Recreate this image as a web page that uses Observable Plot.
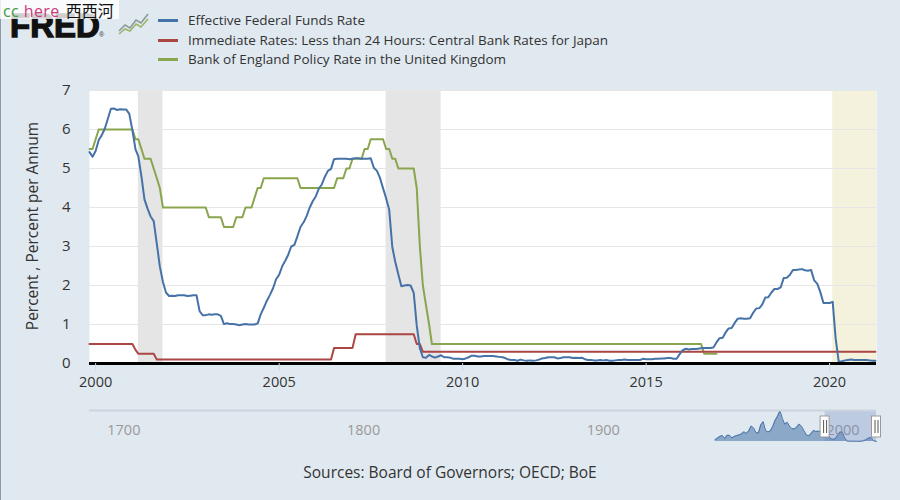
<!DOCTYPE html>
<html>
<head>
<meta charset="utf-8">
<script src="https://cdn.jsdelivr.net/npm/d3@7"></script>
<script src="https://cdn.jsdelivr.net/npm/@observablehq/plot@0.6"></script>
<style>
  html, body { margin: 0; padding: 0; background: #e1e9f0; }
  #wrap { position: relative; width: 900px; height: 500px; overflow: hidden; background: #e1e9f0; font-family: "Open Sans", sans-serif; color: #333; }
  #main { position: absolute; left: 0; top: 0; }
  #nav { position: absolute; left: 0; top: 400px; }
  #edge { position: absolute; left: 0; top: 0; width: 1px; height: 500px; background: #8e9aa7; }
  #logo { position: absolute; left: 10px; top: 9px; font-family: "Liberation Sans", Arial, sans-serif; font-weight: 700; font-size: 33px; line-height: 1; color: #111; -webkit-text-stroke: 1.3px #111; white-space: nowrap; }
  #reg { position: absolute; left: 99px; top: 31px; font-family: "Liberation Sans", Arial, sans-serif; font-size: 7px; line-height: 7px; color: #333; }
  #icon { position: absolute; left: 118px; top: 11px; }
  #wmbox { position: absolute; left: 0; top: 0; width: 119px; height: 19px; background: rgba(255,255,255,0.8); }
  #wm { position: absolute; left: 3px; top: 1px; font-size: 16px; line-height: 18px; letter-spacing: 0.4px; white-space: nowrap; }
  #wm .lat { font-family: "Open Sans", sans-serif; }
  #wm .cjk { font-family: "Noto Sans CJK SC", sans-serif; font-size: 16px; letter-spacing: 0; color: #111; margin-left: 6px; }
  #legend { position: absolute; left: 158px; top: 11px; font-size: 13.5px; line-height: 19.5px; color: #333; }
  .item { display: flex; align-items: center; height: 19.5px; }
  .sw { width: 20px; height: 3px; margin-right: 10px; }
  #ytitle { position: absolute; left: 32px; top: 226px; transform: translate(-50%, -50%) rotate(-90deg); font-size: 15.5px; white-space: nowrap; color: #333; }
  #source { position: absolute; left: 0; width: 900px; top: 461px; text-align: center; font-size: 15.5px; color: #333; }
</style>
</head>
<body>
<div id="wrap">
  <div id="main"></div>
  <div id="nav"></div>
  <div id="edge"></div>
  <div id="logo">FRED</div>
  <div id="reg">®</div>
  <svg id="icon" width="32" height="24" viewBox="0 0 32 24">
    <polyline points="1,20 7,14 12,17 18,9 23,12 30,3" fill="none" stroke="#8a9a9a" stroke-width="1.6"/>
    <polyline points="1,23 7,18 12,20 18,13 23,16 30,8" fill="none" stroke="#9ab46a" stroke-width="1.6"/>
  </svg>
  <div id="wmbox"></div>
  <div id="wm"><span class="lat" style="color:#3f9a3f">cc</span><span class="lat" style="color:#c93b7c"> here</span><span class="cjk">西西河</span></div>
  <div id="legend"></div>
  <div id="ytitle">Percent , Percent per Annum</div>
  <div id="source">Sources: Board of Governors; OECD; BoE</div>
</div>
<script>
// ---------------- DATA ----------------
const seriesNames = [
  "Effective Federal Funds Rate",
  "Immediate Rates: Less than 24 Hours: Central Bank Rates for Japan",
  "Bank of England Policy Rate in the United Kingdom"
];
const seriesColors = ["#4572a7", "#aa4643", "#89a54e"];

// Effective Federal Funds Rate, monthly from 1999-11
const fedStart = "1999-11";
const fedValues = [
  5.42, 5.30,
  5.45, 5.73, 5.85, 6.02, 6.27, 6.53, 6.54, 6.50, 6.52, 6.51, 6.51, 6.40,
  5.98, 5.49, 5.31, 4.80, 4.21, 3.97, 3.77, 3.65, 3.07, 2.49, 2.09, 1.82,
  1.73, 1.74, 1.73, 1.75, 1.75, 1.75, 1.73, 1.74, 1.75, 1.75, 1.34, 1.24,
  1.24, 1.26, 1.25, 1.26, 1.26, 1.22, 1.01, 1.03, 1.01, 1.01, 1.00, 0.98,
  1.00, 1.01, 1.00, 1.00, 1.00, 1.03, 1.26, 1.43, 1.61, 1.76, 1.93, 2.16,
  2.28, 2.50, 2.63, 2.79, 3.00, 3.04, 3.26, 3.50, 3.62, 3.78, 4.00, 4.16,
  4.29, 4.49, 4.59, 4.79, 4.94, 4.99, 5.24, 5.25, 5.25, 5.25, 5.25, 5.24,
  5.25, 5.26, 5.26, 5.25, 5.25, 5.25, 5.26, 5.02, 4.94, 4.76, 4.49, 4.24,
  3.94, 2.98, 2.61, 2.28, 1.98, 2.00, 2.01, 2.00, 1.81, 0.97, 0.39, 0.16,
  0.15, 0.22, 0.18, 0.15, 0.18, 0.21, 0.16, 0.16, 0.15, 0.12, 0.12, 0.12,
  0.11, 0.13, 0.16, 0.20, 0.20, 0.18, 0.18, 0.19, 0.19, 0.19, 0.19, 0.18,
  0.17, 0.16, 0.14, 0.10, 0.09, 0.09, 0.07, 0.10, 0.08, 0.07, 0.08, 0.07,
  0.08, 0.10, 0.13, 0.14, 0.16, 0.16, 0.16, 0.13, 0.14, 0.16, 0.16, 0.16,
  0.14, 0.15, 0.14, 0.15, 0.11, 0.09, 0.09, 0.08, 0.08, 0.09, 0.08, 0.09,
  0.07, 0.07, 0.08, 0.09, 0.09, 0.10, 0.09, 0.09, 0.09, 0.09, 0.09, 0.12,
  0.11, 0.11, 0.11, 0.12, 0.12, 0.13, 0.13, 0.14, 0.14, 0.12, 0.12, 0.24,
  0.34, 0.38, 0.36, 0.37, 0.37, 0.38, 0.39, 0.40, 0.40, 0.40, 0.41, 0.54,
  0.65, 0.66, 0.79, 0.90, 0.91, 1.04, 1.15, 1.16, 1.15, 1.15, 1.16, 1.30,
  1.41, 1.42, 1.51, 1.69, 1.70, 1.82, 1.91, 1.91, 1.95, 2.19, 2.20, 2.27,
  2.40, 2.40, 2.41, 2.42, 2.39, 2.38, 2.40, 2.13, 2.04, 1.83, 1.55, 1.55,
  1.55, 1.58, 0.65, 0.05, 0.05, 0.08, 0.09, 0.10, 0.09, 0.09, 0.09, 0.09,
  0.09, 0.08, 0.07, 0.07
];

// Japan central bank rate: monthly points at each change
const japanMonths = ["1999-11","2001-01","2001-02","2001-03","2001-08","2001-09","2006-06","2006-07","2007-01","2007-02","2008-09","2008-10","2008-11","2008-12","2021-04"];
const japanValues = [0.5, 0.5, 0.35, 0.25, 0.25, 0.1, 0.1, 0.4, 0.4, 0.75, 0.75, 0.5, 0.5, 0.3, 0.3];

// Bank of England policy rate: monthly points at each change
const boeMonths = ["1999-11","1999-12","2000-01","2000-02","2001-01","2001-02","2001-03","2001-04","2001-05","2001-07","2001-08","2001-09","2001-10","2001-11",
  "2003-01","2003-02","2003-06","2003-07","2003-10","2003-11","2004-01","2004-02","2004-04","2004-05","2004-06","2004-07","2004-08",
  "2005-07","2005-08","2006-07","2006-08","2006-10","2006-11","2006-12","2007-01","2007-04","2007-05","2007-06","2007-07","2007-11","2007-12",
  "2008-01","2008-02","2008-03","2008-04","2008-09","2008-10","2008-11","2008-12","2009-01","2009-02","2009-03","2016-07","2016-08","2016-12"];
const boeValues = [5.5, 5.5, 5.75, 6.0, 6.0, 5.75, 5.75, 5.5, 5.25, 5.25, 5.0, 4.75, 4.5, 4.0,
  4.0, 3.75, 3.75, 3.5, 3.5, 3.75, 3.75, 4.0, 4.0, 4.25, 4.5, 4.5, 4.75,
  4.75, 4.5, 4.5, 4.75, 4.75, 5.0, 5.0, 5.25, 5.25, 5.5, 5.5, 5.75, 5.75, 5.5,
  5.5, 5.25, 5.25, 5.0, 5.0, 4.5, 3.0, 2.0, 1.5, 1.0, 0.5, 0.5, 0.25, 0.25];

// Recessions (shaded) and the preliminary period
const shadeStarts = ["2001-03", "2007-12", "2020-02"];
const shadeEnds   = ["2001-11", "2009-06", "2021-04"];
const shadeKinds  = ["recession", "recession", "preliminary"];

const xDomainMonths = ["1999-11", "2021-04"];
const xTickYears = [2000, 2005, 2010, 2015, 2020];
const yTicks = [0, 1, 2, 3, 4, 5, 6, 7];

// Navigator: annual averages of the Fed funds rate
const navYears = [1954,1955,1956,1957,1958,1959,1960,1961,1962,1963,1964,1965,1966,1967,1968,1969,1970,1971,1972,1973,1974,1975,1976,1977,1978,1979,1980,1981,1982,1983,1984,1985,1986,1987,1988,1989,1990,1991,1992,1993,1994,1995,1996,1997,1998,1999,2000,2001,2002,2003,2004,2005,2006,2007,2008,2009,2010,2011,2012,2013,2014,2015,2016,2017,2018,2019,2020,2021.3];
const navValues = [1.0,1.79,2.73,3.11,1.57,3.31,3.21,1.95,2.71,3.18,3.50,4.07,5.11,4.22,5.66,8.21,7.17,4.67,4.44,8.74,10.51,5.82,5.05,5.54,7.94,11.20,13.35,16.39,12.24,9.09,10.23,8.10,6.80,6.66,7.57,9.21,8.10,5.69,3.52,3.02,4.21,5.83,5.30,5.46,5.35,4.97,6.24,3.88,1.67,1.13,1.35,3.22,4.97,5.02,1.92,0.16,0.18,0.10,0.14,0.11,0.09,0.13,0.40,1.00,1.83,2.16,0.38,0.08];
const navDomain = [1693, 2021.28];
const navSelection = [1999.84, 2021.28];
const navTicks = [1700, 1800, 1900, 2000];
const navYMax = 16.4;

// ---------------- BUILD ----------------
const pm = d3.utcParse("%Y-%m");
const fed = fedValues.map((v, i) => ({date: d3.utcMonth.offset(pm(fedStart), i), value: v}));
const japan = japanMonths.map((m, i) => ({date: pm(m), value: japanValues[i]}));
const boe = boeMonths.map((m, i) => ({date: pm(m), value: boeValues[i]}));
const shades = shadeStarts.map((s, i) => ({start: pm(s), end: pm(shadeEnds[i]), kind: shadeKinds[i]}));
const shadeColor = {recession: "#e5e5e5", preliminary: "#f4f2dc"};
const xDomain = [pm(xDomainMonths[0]), d3.utcDay.offset(pm(xDomainMonths[1]), 11)];
shades[2].end = xDomain[1];

const main = Plot.plot({
  width: 900, height: 400,
  marginLeft: 89, marginRight: 24, marginTop: 90, marginBottom: 37,
  style: {background: "transparent", fontFamily: "Open Sans", fontSize: "14.5px", color: "#333", overflow: "visible"},
  x: {type: "utc", domain: xDomain},
  y: {domain: [0, 7]},
  marks: [
    Plot.frame({fill: "white", stroke: null}),
    Plot.rect(shades, {x1: "start", x2: "end", fill: d => shadeColor[d.kind]}),
    Plot.ruleY(yTicks.filter(v => v > 0), {stroke: "#e6e6e6", strokeWidth: 1}),
    Plot.lineY(boe, {x: "date", y: "value", stroke: seriesColors[2], strokeWidth: 2}),
    Plot.lineY(japan, {x: "date", y: "value", stroke: seriesColors[1], strokeWidth: 2}),
    Plot.lineY(fed, {x: "date", y: "value", stroke: seriesColors[0], strokeWidth: 2}),
    Plot.ruleY([0], {stroke: "#000", strokeWidth: 3}),
    Plot.axisX({ticks: xTickYears.map(y => new Date(Date.UTC(y, 0, 1))), tickFormat: "%Y", tickSize: 8, tickPadding: 5, stroke: "#ccd6eb", fill: "#333", fontSize: 14.5, label: null}),
    Plot.axisY({ticks: yTicks, tickFormat: d => String(d), tickSize: 0, tickPadding: 19, fontSize: 15, fill: "#333", label: null})
  ]
});
document.getElementById("main").appendChild(main);

const navData = navYears.map((y, i) => ({year: y, value: navValues[i]}));
const nav = Plot.plot({
  width: 900, height: 50,
  marginLeft: 89, marginRight: 24, marginTop: 10, marginBottom: 9,
  style: {background: "transparent", fontFamily: "Open Sans", fontSize: "14.5px", overflow: "visible"},
  x: {domain: navDomain, axis: null},
  y: {domain: [0, navYMax], axis: null},
  marks: [
    Plot.areaY(navData, {x: "year", y: "value", fill: "#4572a7", fillOpacity: 0.55}),
    Plot.lineY(navData, {x: "year", y: "value", stroke: "#4572a7", strokeWidth: 1}),
    Plot.text(navTicks, {x: d => d, text: d => String(d), frameAnchor: "bottom", dy: -7, dx: 1, textAnchor: "start", fill: "#999", fontSize: 14.5}),
    Plot.rect([navSelection], {x1: d => d[0], x2: d => d[1], fill: "rgb(102,133,194)", fillOpacity: 0.3}),
    Plot.ruleY([navYMax], {x1: navDomain[0], x2: navDomain[1], stroke: "#ccd3dc", strokeWidth: 2}),
    Plot.rect(navSelection, {x1: d => d, x2: d => d, insetLeft: -4.5, insetRight: -4.5, insetTop: 6, insetBottom: 4, fill: "white", stroke: "#999", strokeWidth: 1}),
    Plot.ruleX(navSelection, {dx: -1.5, insetTop: 10, insetBottom: 8, stroke: "#555", strokeWidth: 1}),
    Plot.ruleX(navSelection, {dx: 1.5, insetTop: 10, insetBottom: 8, stroke: "#555", strokeWidth: 1})
  ]
});
document.getElementById("nav").appendChild(nav);

// Legend
const legend = document.getElementById("legend");
seriesNames.forEach((name, i) => {
  const item = document.createElement("div");
  item.className = "item";
  const sw = document.createElement("span");
  sw.className = "sw";
  sw.style.background = seriesColors[i];
  const label = document.createElement("span");
  label.textContent = name;
  item.appendChild(sw);
  item.appendChild(label);
  legend.appendChild(item);
});
</script>
</body>
</html>
